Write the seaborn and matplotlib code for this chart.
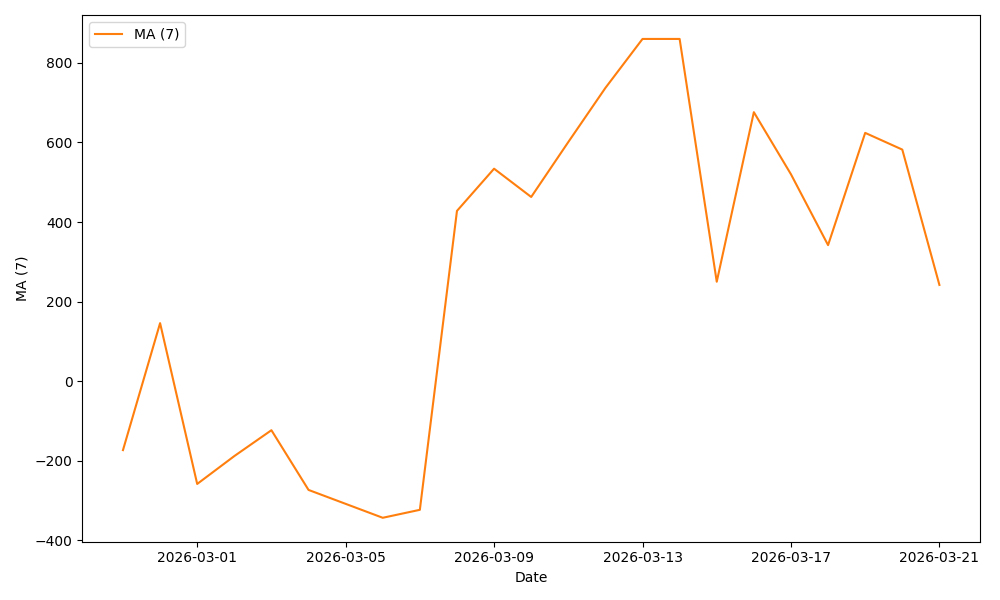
import matplotlib
matplotlib.use("Agg")
import matplotlib.pyplot as plt
import seaborn as sns
import pandas as pd

dates = pd.date_range("2026-02-27", "2026-03-21", freq="D")
ma7 = [-173, 146, -258, -188, -123, -273, -308, -343, -323, 428, 534, 463,
       601, 737, 860, 860, 250, 676, 520, 342, 624, 582, 242]

df = pd.DataFrame({"Date": dates, "MA (7)": ma7})

fig, ax = plt.subplots(figsize=(10, 6), dpi=100)
sns.lineplot(data=df, x="Date", y="MA (7)", color="#ff7f0e", label="MA (7)", ax=ax)
ax.set_xlabel("Date")
ax.set_ylabel("MA (7)")
ax.legend(loc="upper left")
fig.tight_layout()
fig.savefig("out.png")
